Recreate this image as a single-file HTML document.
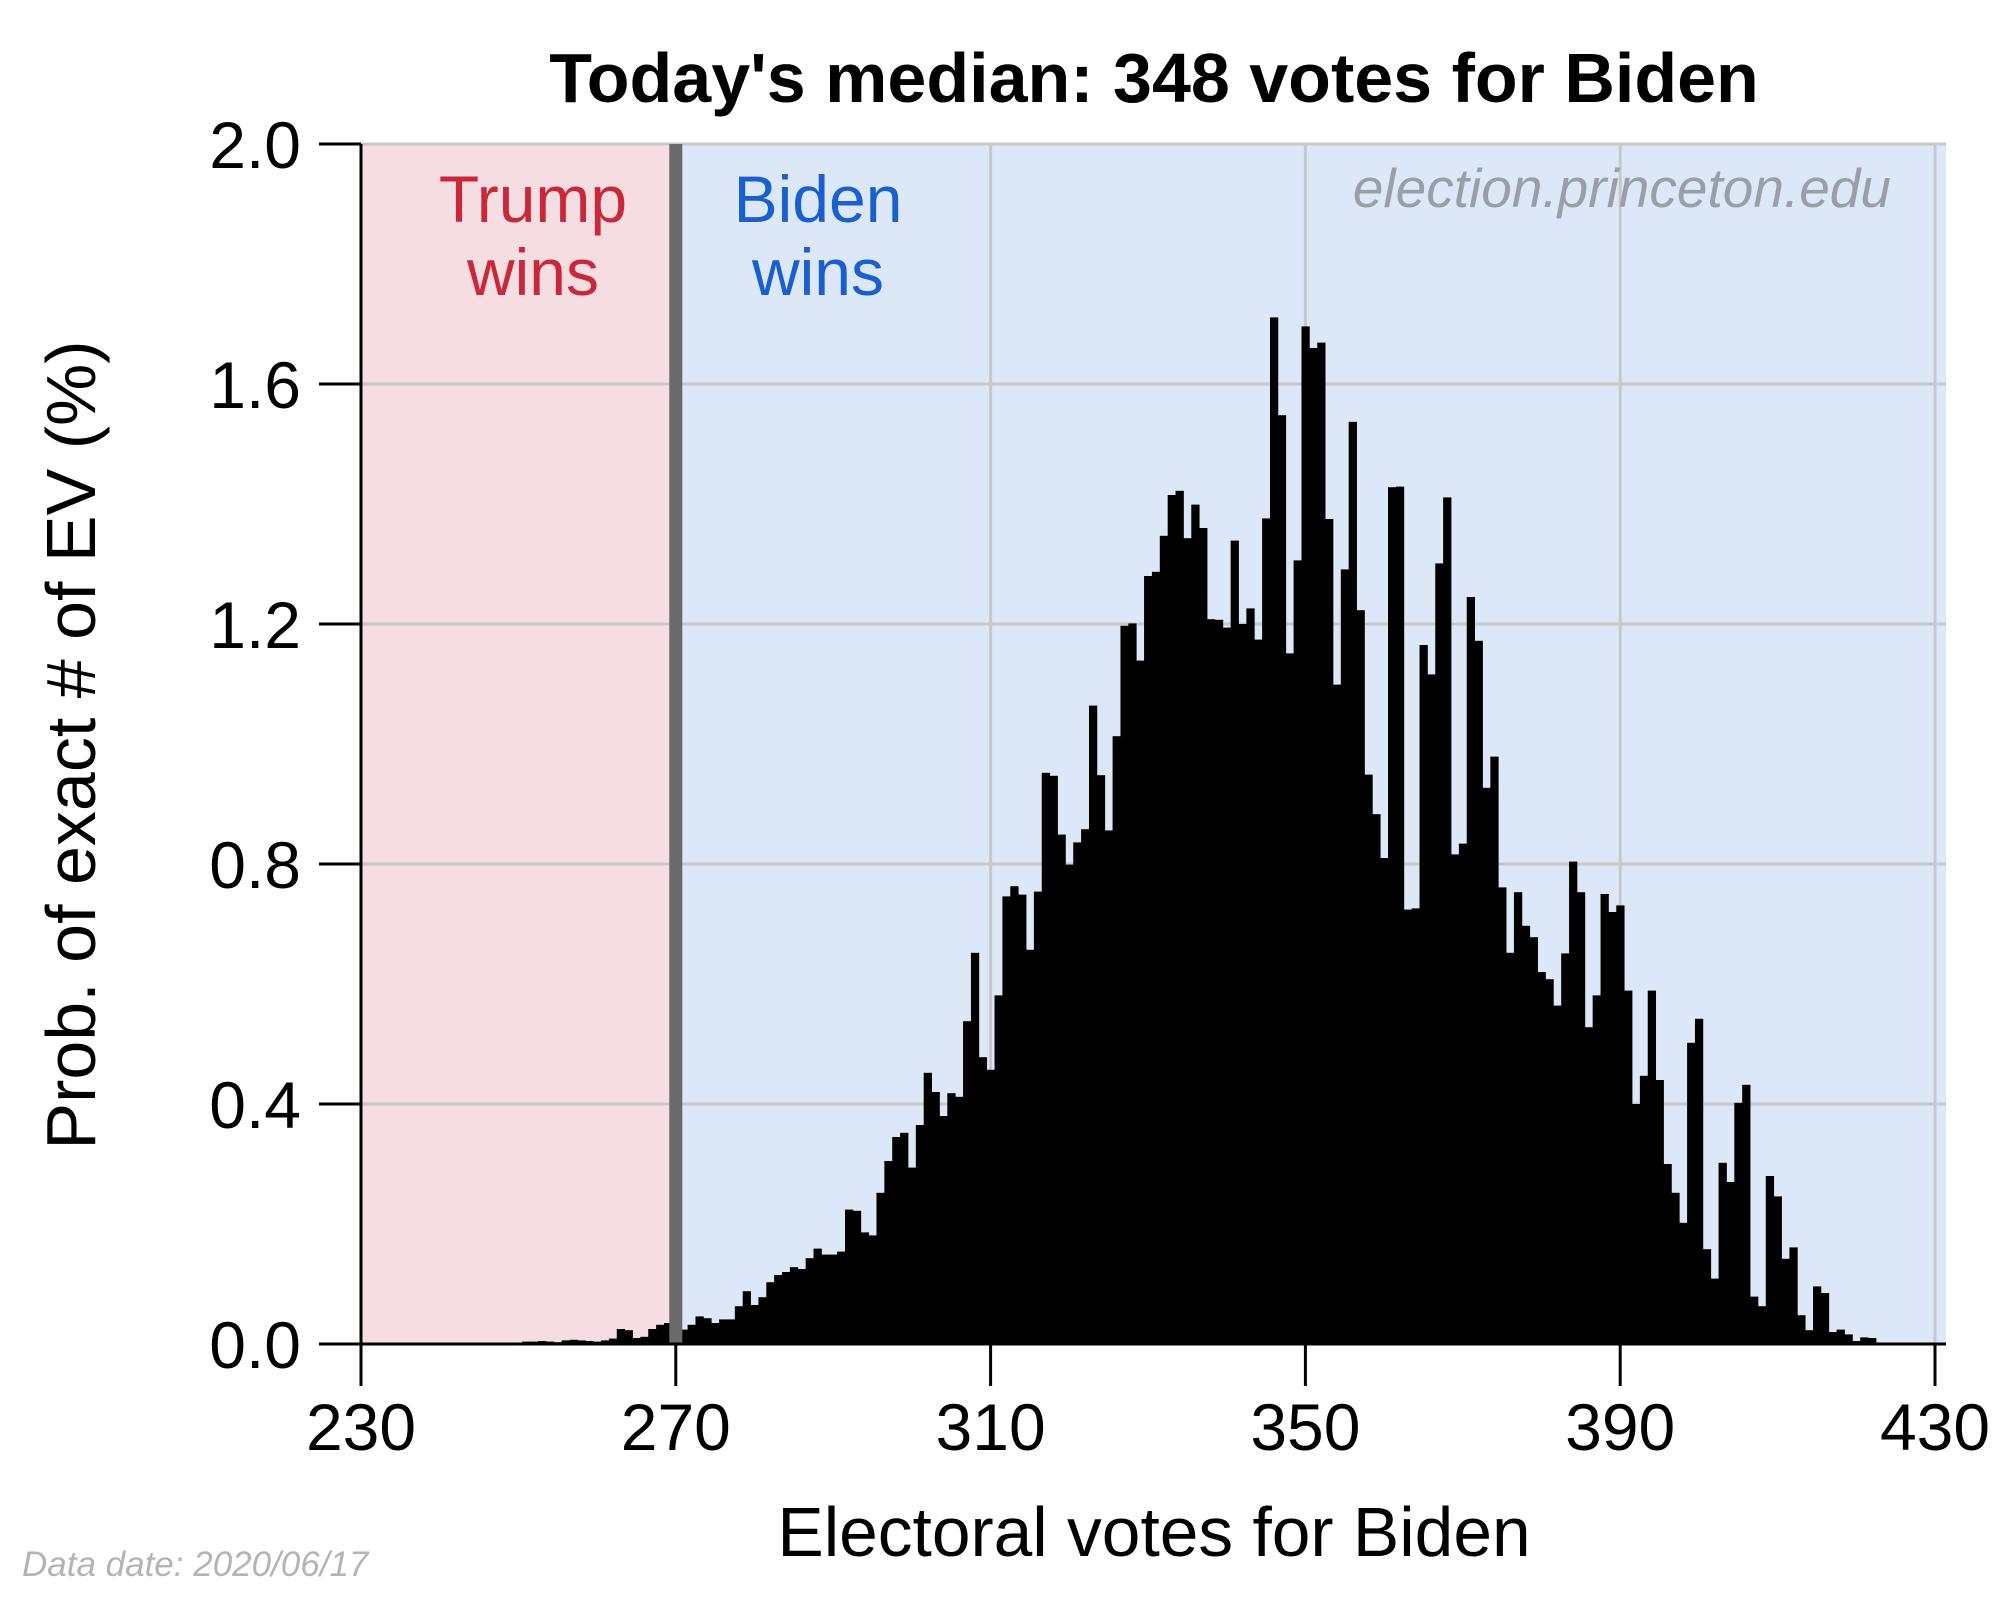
<!DOCTYPE html>
<html><head><meta charset="utf-8"><style>
html,body{margin:0;padding:0;background:#fff;}
svg{display:block;font-family:"Liberation Sans",Arial,sans-serif;}
</style></head><body>
<svg id="chart" width="2000" height="1600" viewBox="0 0 2000 1600" xmlns="http://www.w3.org/2000/svg">
<g id="bg"></g>
<g id="grid"></g>
<g id="bars"></g>
<g id="axes"></g>
<text x="1154" y="102" font-size="70" font-weight="bold" text-anchor="middle">Today's median: 348 votes for Biden</text>
<text x="533" y="222" font-size="66" fill="#c8283a" text-anchor="middle">Trump</text>
<text x="533" y="295" font-size="66" fill="#c8283a" text-anchor="middle">wins</text>
<text x="818" y="222" font-size="66" fill="#1a5fd0" text-anchor="middle">Biden</text>
<text x="818" y="295" font-size="66" fill="#1a5fd0" text-anchor="middle">wins</text>
<text x="1891" y="207" font-size="55" font-style="italic" fill="#9a9ea6" text-anchor="end">election.princeton.edu</text>
<text x="1154" y="1556" font-size="69.5" text-anchor="middle">Electoral votes for Biden</text>
<text x="0" y="0" font-size="70" text-anchor="middle" dominant-baseline="central" transform="translate(71,745) rotate(-90)">Prob. of exact # of EV (%)</text>
<text x="22" y="1576" font-size="35" font-style="italic" fill="#b4b4b4">Data date: 2020/06/17</text>
</svg>
<script>
const evStart = 230;
const probs = [
0,0,0,0,0,0,0,0,0,0, 0,0,0,0,0,0,0,0,0,0,
0,0.004,0.004,0.005,0.004,0.003,0.006,0.007,0.006,0.005,
0.004,0.006,0.009,0.025,0.023,0.01,0.012,0.025,0.032,0.035,
0.04,0.024,0.032,0.046,0.043,0.035,0.041,0.041,0.063,0.088,
0.065,0.078,0.103,0.115,0.12,0.128,0.125,0.143,0.159,0.149,
0.149,0.154,0.224,0.222,0.186,0.181,0.252,0.305,0.345,0.352,
0.294,0.365,0.452,0.42,0.38,0.418,0.412,0.538,0.652,0.478,
0.457,0.581,0.746,0.763,0.749,0.657,0.754,0.952,0.947,0.849,
0.799,0.836,0.858,1.064,0.948,0.856,1.013,1.197,1.201,1.139,
1.28,1.287,1.347,1.415,1.422,1.343,1.399,1.36,1.208,1.207,
1.194,1.339,1.2,1.226,1.174,1.376,1.711,1.548,1.151,1.306,
1.696,1.66,1.669,1.375,1.099,1.291,1.537,1.223,0.949,0.883,
0.81,1.428,1.429,0.724,0.726,1.165,1.116,1.301,1.411,0.816,
0.834,1.245,1.172,0.927,0.979,0.761,0.652,0.753,0.697,0.678,
0.62,0.608,0.564,0.651,0.804,0.753,0.528,0.581,0.75,0.72,
0.731,0.589,0.4,0.447,0.589,0.44,0.3,0.252,0.202,0.502,
0.542,0.158,0.109,0.302,0.27,0.402,0.432,0.079,0.063,0.28,
0.246,0.142,0.161,0.048,0.023,0.096,0.085,0.02,0.024,0.016,
0.005,0.011,0.01,0,0,0,0,0,0,0,0
];
const xTicks = [230,270,310,350,390,430];
const xTickLabels = ["230","270","310","350","390","430"];
const yTicks = [0,0.4,0.8,1.2,1.6,2.0];
const yTickLabels = ["0.0","0.4","0.8","1.2","1.6","2.0"];
const xGrid = [310,350,390,430];
const winThreshold = 270;

const NS="http://www.w3.org/2000/svg";
const X0=361, PX=7.87, Y0=1344, PY=600, TOP=144, RIGHT=1946;
function xs(ev){return X0+(ev-230)*PX;}
function ys(v){return Y0-v*PY;}
function mk(tag,attrs,parent){const e=document.createElementNS(NS,tag);for(const k in attrs)e.setAttribute(k,attrs[k]);parent.appendChild(e);return e;}
const bg=document.getElementById('bg'),grid=document.getElementById('grid'),bars=document.getElementById('bars'),axes=document.getElementById('axes');

let r=mk('rect',{x:X0,y:TOP,width:xs(winThreshold)-X0,height:Y0-TOP,fill:'#f5dde1'},bg);


r=mk('rect',{x:xs(winThreshold),y:TOP,width:RIGHT-xs(winThreshold),height:Y0-TOP,fill:'#dce8f7'},bg);



yTicks.forEach((v,i)=>{
  if(v===0)return;
  const l=mk('line',{x1:X0,x2:RIGHT,y1:ys(v),y2:ys(v),stroke:'#c6c8cc','stroke-width':3},grid);
  
  
});
xGrid.forEach(ev=>{
  const l=mk('line',{x1:xs(ev),x2:xs(ev),y1:TOP,y2:Y0,stroke:'#c6c8cc','stroke-width':3},grid);
  
  
});

probs.forEach((p,i)=>{
  if(p<=0)return;
  const ev=evStart+i;
  const b=mk('rect',{x:xs(ev)-PX/2,y:ys(p),width:PX+0.4,height:Y0-ys(p),fill:'#000'},bars);
  
  
});

let t=mk('line',{x1:xs(winThreshold),x2:xs(winThreshold),y1:TOP,y2:Y0,stroke:'#6a6a6a','stroke-width':13},axes);



let s=mk('line',{x1:X0,x2:X0,y1:TOP,y2:Y0+1.5,stroke:'#000','stroke-width':3},axes);


s=mk('line',{x1:X0-1.5,x2:RIGHT,y1:Y0,y2:Y0,stroke:'#000','stroke-width':3},axes);



yTicks.forEach((v,i)=>{
  const tk=mk('line',{x1:319,x2:X0,y1:ys(v),y2:ys(v),stroke:'#000','stroke-width':3},axes);
  
  
  const lb=mk('text',{x:301,y:ys(v)+24,'font-size':66,'text-anchor':'end'},axes);
  lb.textContent=yTickLabels[i];
  
  
});
xTicks.forEach((ev,i)=>{
  const tk=mk('line',{x1:xs(ev),x2:xs(ev),y1:Y0,y2:1386,stroke:'#000','stroke-width':3},axes);
  
  
  const lb=mk('text',{x:xs(ev),y:1450,'font-size':66,'text-anchor':'middle'},axes);
  lb.textContent=xTickLabels[i];
  
  
});
</script>
</body></html>
